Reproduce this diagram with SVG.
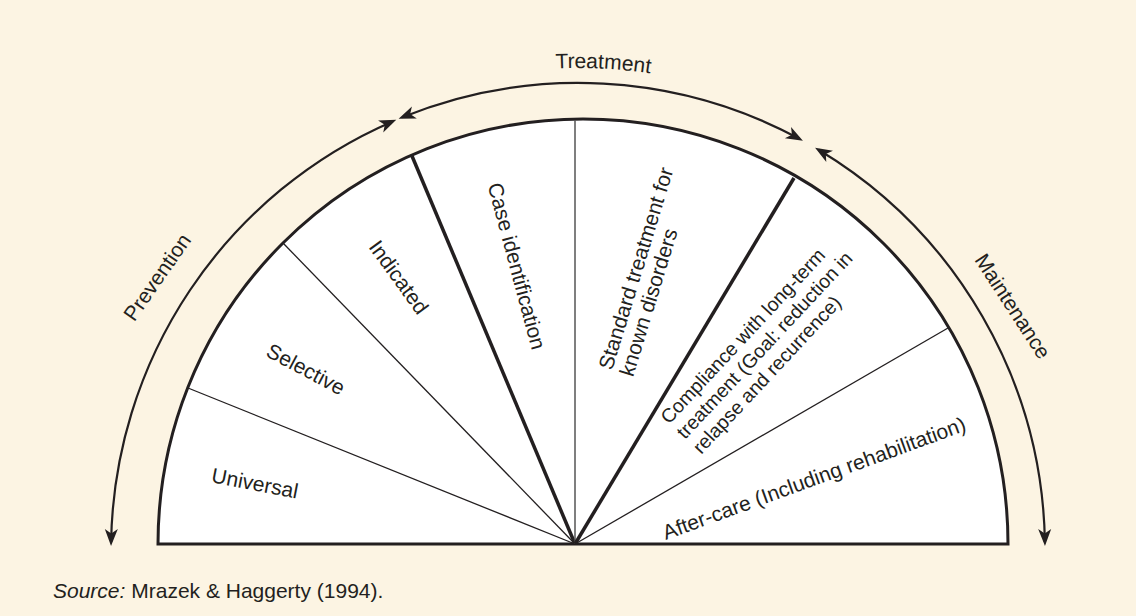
<svg xmlns="http://www.w3.org/2000/svg" width="1136" height="616" viewBox="0 0 1136 616">
  <style>
    .lbl { font-family: "Liberation Sans", Arial, sans-serif; font-size: 21px; fill: #231F20; }
    .sm { font-size: 19.5px; }
    .thin { stroke: #231F20; stroke-width: 1.3; fill: none; }
    .thick { stroke: #231F20; stroke-width: 3.5; fill: none; }
    .arc { stroke: #231F20; stroke-width: 2.2; fill: none; marker-start: url(#ah); marker-end: url(#ah); }
  </style>
  <defs>
    <marker id="ah" markerUnits="userSpaceOnUse" viewBox="-16 -8 22 16" refX="0" refY="0" markerWidth="22" markerHeight="16" orient="auto-start-reverse">
      <path d="M4,0 L-13,-6.5 L-8.5,0 L-13,6.5 Z" fill="#231F20"/>
    </marker>
    <path id="tp" d="M 96 550 A 482 482 0 0 1 1060 550"/>
  </defs>
  <rect width="1136" height="616" fill="#FCF4E3"/>

  <g id="semicircle">
    <path d="M 158 544 A 425 425 0 0 1 1008 544 Z" fill="#FFFFFF" stroke="#231F20" stroke-width="3"/>
  </g>

  <g id="connectors">
    <line class="thin" x1="575" y1="544" x2="188" y2="388"/>
    <line class="thin" x1="575" y1="544" x2="283" y2="243"/>
    <line class="thick" x1="575" y1="544" x2="412" y2="156"/>
    <line x1="575" y1="544" x2="575" y2="120" stroke="#555" stroke-width="1.5"/>
    <line class="thick" x1="575" y1="544" x2="794" y2="178"/>
    <line class="thin" x1="575" y1="544" x2="948" y2="328"/>
    <path id="arc-prevention" class="arc" d="M 111.1 542 A 467 467 0 0 1 392.6 121.4"/>
    <path id="arc-treatment" class="arc" d="M 402.3 117.3 A 467 467 0 0 1 799.4 138.8"/>
    <path id="arc-maintenance" class="arc" d="M 818.5 149.7 A 467 467 0 0 1 1044.9 542"/>
  </g>

  <g id="treatment-label">
    <text class="lbl"><textPath href="#tp" startOffset="51.65%" text-anchor="middle">Treatment</textPath></text>
  </g>
  <g id="prevention-label">
    <text class="lbl" text-anchor="middle" dominant-baseline="central" transform="translate(157,277) rotate(-55)">Prevention</text>
  </g>
  <g id="maintenance-label">
    <text class="lbl" text-anchor="middle" dominant-baseline="central" transform="translate(1013,306) rotate(57)">Maintenance</text>
  </g>

  <g id="universal">
    <text class="lbl" text-anchor="middle" dominant-baseline="central" transform="translate(255,483) rotate(11)">Universal</text>
  </g>
  <g id="selective">
    <text class="lbl" text-anchor="middle" dominant-baseline="central" transform="translate(306,369) rotate(28)">Selective</text>
  </g>
  <g id="indicated">
    <text class="lbl" text-anchor="middle" dominant-baseline="central" transform="translate(399,277) rotate(54)">Indicated</text>
  </g>
  <g id="case-identification">
    <text class="lbl" text-anchor="middle" dominant-baseline="central" transform="translate(517,266) rotate(75)">Case identification</text>
  </g>
  <g id="standard-treatment">
    <text class="lbl" transform="translate(612,371) rotate(-73)"><tspan x="0" y="0">Standard treatment for</tspan><tspan x="0" y="22">known disorders</tspan></text>
  </g>
  <g id="compliance">
    <text class="lbl sm" transform="translate(669,425) rotate(-47)"><tspan x="0" y="0">Compliance with long-term</tspan><tspan x="0" y="22">treatment (Goal: reduction in</tspan><tspan x="0" y="44">relapse and recurrence)</tspan></text>
  </g>
  <g id="after-care">
    <text class="lbl" text-anchor="middle" dominant-baseline="central" transform="translate(814,478) rotate(-20)">After-care (Including rehabilitation)</text>
  </g>

  <g id="source">
    <text class="lbl" x="53" y="598"><tspan font-style="italic">Source:</tspan> Mrazek &amp; Haggerty (1994).</text>
  </g>
</svg>
